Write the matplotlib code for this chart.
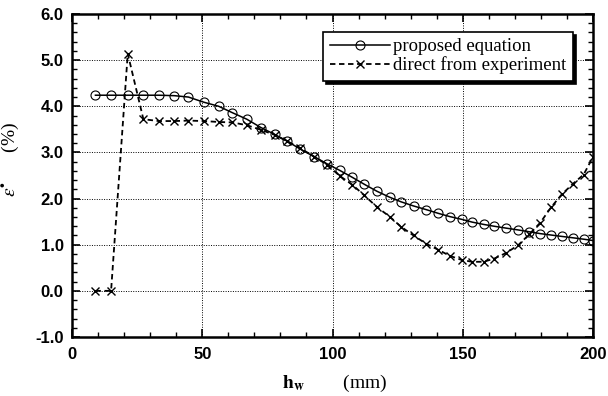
import numpy as np
import matplotlib
matplotlib.use('Agg')
import matplotlib.pyplot as plt
from matplotlib.ticker import MultipleLocator, FormatStrFormatter

# wall height h_w (mm), shared by both series
h_w = [9, 15, 21.4, 27.4, 33.3, 39.3, 44.7, 50.5, 56.3, 61.6,
       67.1, 72.5, 77.8, 82.7, 87.7, 92.9, 98.0, 102.8, 107.6, 112.2,
       117.0, 121.9, 126.3, 131.1, 136.0, 140.6, 145.0, 149.6, 153.6, 158.0,
       162.1, 166.6, 171.3, 175.6, 179.8, 183.9, 188.0, 192.3, 196.4, 200.0]

# strain (%) from the proposed equation
proposed = [4.24, 4.24, 4.24, 4.24, 4.24, 4.23, 4.20, 4.09, 4.00, 3.86,
            3.72, 3.54, 3.39, 3.24, 3.07, 2.91, 2.75, 2.61, 2.46, 2.31,
            2.16, 2.03, 1.93, 1.84, 1.76, 1.68, 1.61, 1.55, 1.49, 1.44,
            1.40, 1.36, 1.32, 1.28, 1.24, 1.21, 1.18, 1.15, 1.12, 1.09]

# strain (%) taken directly from the tests
experiment = [0.0, 0.0, 5.14, 3.72, 3.68, 3.68, 3.69, 3.68, 3.66, 3.65,
              3.59, 3.49, 3.38, 3.24, 3.09, 2.91, 2.73, 2.49, 2.30, 2.07,
              1.82, 1.61, 1.39, 1.20, 1.02, 0.89, 0.76, 0.67, 0.63, 0.63,
              0.70, 0.82, 0.99, 1.23, 1.48, 1.81, 2.09, 2.32, 2.52, 2.90]

xticks = [0, 50, 100, 150, 200]
yticks = [-1.0, 0.0, 1.0, 2.0, 3.0, 4.0, 5.0, 6.0]

plt.rcParams['mathtext.fontset'] = 'stix'

fig = plt.figure(figsize=(6.08, 3.96), dpi=100)
ax = fig.add_axes([72/608, 1 - 337/396, (593 - 72)/608, (337 - 14)/396])

ax.plot(h_w, proposed, color='black', lw=1.1, marker='o', ms=6.5,
        mfc='none', mec='black', mew=0.8, label='proposed equation')
ax.plot(h_w, experiment, color='black', lw=1.3, ls=(0, (3, 2)), marker='x',
        ms=6, mew=1.0, label='direct from experiment')

ax.set_xlim(0, 200)
ax.set_ylim(-1.0, 6.0)
ax.set_xticks(xticks)
ax.set_yticks(yticks)
ax.xaxis.set_minor_locator(MultipleLocator(10))
ax.yaxis.set_minor_locator(MultipleLocator(0.2))
ax.yaxis.set_major_formatter(FormatStrFormatter('%.1f'))
ax.grid(True, which='major', color='black', ls=(0, (1, 1.5)), lw=0.7)

ax.tick_params(which='both', direction='in', top=True, right=True)
ax.tick_params(which='major', length=6, width=1.2, labelsize=12)
ax.tick_params(axis='y', which='major', pad=6)
ax.tick_params(axis='x', which='major', pad=7)
ax.tick_params(which='minor', length=3.5, width=1.0)
for lbl in ax.get_xticklabels() + ax.get_yticklabels():
    lbl.set_fontweight('bold')
    lbl.set_family('Liberation Sans')
for sp in ax.spines.values():
    sp.set_linewidth(1.8)

ax.set_xlabel(r'$\mathbf{h}_{\mathbf{w}}$        (mm)', fontsize=14,
              family='Liberation Serif')
ax.xaxis.set_label_coords(0.504, -0.11)
ax.set_ylabel(r'$\varepsilon^{\bullet}$      (%)', fontsize=14,
              family='Liberation Serif')
ax.yaxis.set_label_coords(-0.098, 0.55)

leg = ax.legend(loc='upper right', bbox_to_anchor=(0.962, 0.945),
                prop={'family': 'Liberation Serif', 'size': 13.5},
                frameon=True, fancybox=False, borderaxespad=0,
                handlelength=3.2, handletextpad=0.2, labelspacing=0.05,
                borderpad=0.35, shadow={'color': 'black', 'alpha': 1.0})
leg.get_frame().set_edgecolor('black')
leg.get_frame().set_linewidth(1.2)
leg.get_frame().set_alpha(1.0)

fig.savefig('out.png', dpi=100)
